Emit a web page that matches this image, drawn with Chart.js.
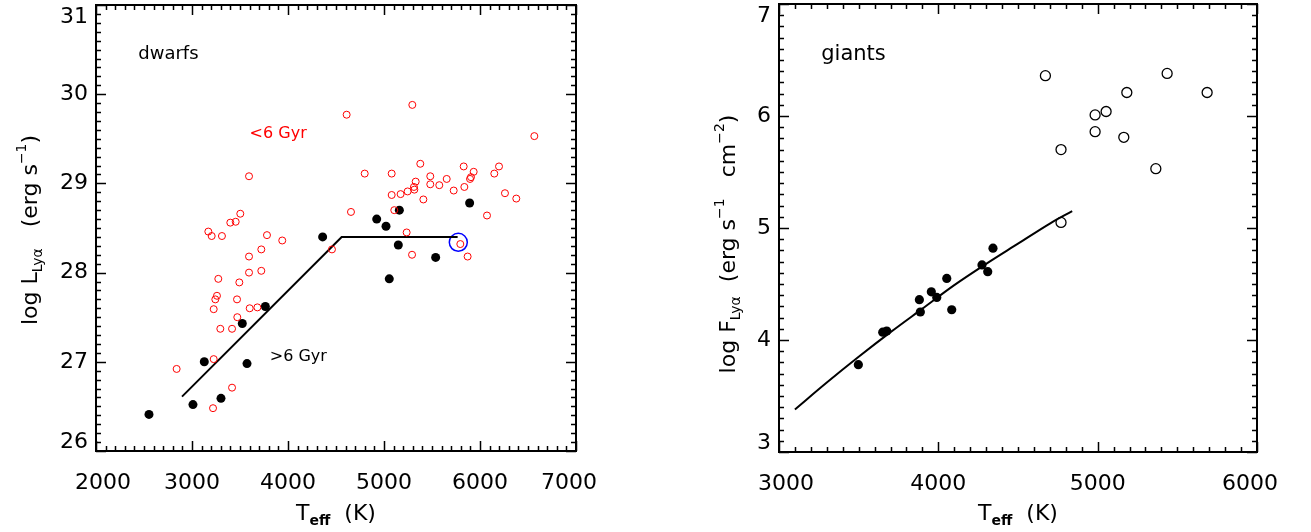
<!DOCTYPE html>
<html>
<head>
<meta charset="utf-8">
<script src="https://cdn.jsdelivr.net/npm/chart.js@4.4.1/dist/chart.umd.min.js"></script>
<style>
  html, body { margin: 0; padding: 0; background: #fff; }
  #wrap { position: relative; width: 1311px; height: 532px; }
  #c1 { position: absolute; left: 0; top: 0; }
  #c2 { position: absolute; left: 650px; top: 0; }
</style>
</head>
<body>
<div id="wrap">
  <canvas id="c1" width="650" height="532"></canvas>
  <canvas id="c2" width="661" height="532"></canvas>
</div>
<script>
// ---------- Left panel: dwarfs ----------
const youngTeff = [4611, 3594, 4799, 5080, 3503, 3455, 3399, 4656, 3170, 3205, 3312, 3781, 3940, 3722, 3594, 4458,
  5295, 6566, 5378, 5482, 5330, 5653, 5482, 5576, 5312, 5316, 5246, 5173, 5080, 5830, 5934, 5906, 5896, 6198, 6149,
  5726, 5837, 5410, 6260, 6378, 6073, 5107, 5236, 5292, 5871, 5795,
  3274, 3594, 3722, 3493, 3260, 3243, 3469, 3226, 3601, 3681, 3472, 3295, 3417, 3226, 2840, 3417, 3219];
const youngLogL = [29.77, 29.08, 29.11, 29.11, 28.66, 28.57, 28.56, 28.68, 28.46, 28.41, 28.41, 28.42, 28.36, 28.26, 28.18, 28.26,
  29.88, 29.53, 29.22, 29.08, 29.02, 29.05, 28.99, 28.98, 28.96, 28.93, 28.91, 28.88, 28.87, 29.19, 29.13, 29.07, 29.05, 29.19, 29.11,
  28.92, 28.96, 28.82, 28.89, 28.83, 28.64, 28.70, 28.45, 28.20, 28.18, 28.32,
  27.93, 28.00, 28.02, 27.89, 27.74, 27.70, 27.70, 27.59, 27.60, 27.61, 27.50, 27.37, 27.37, 27.03, 26.92, 26.71, 26.48];
const oldTeff = [4361, 4924, 5021, 5160, 5892, 5149, 5538, 5055, 3764, 3524, 3128, 3573, 3010, 3302, 2552];
const oldLogL = [28.40, 28.60, 28.52, 28.70, 28.78, 28.31, 28.17, 27.93, 27.62, 27.43, 27.00, 26.98, 26.52, 26.59, 26.41];
const sunTeff = [5774];
const sunLogL = [28.34];
const dwarfFitTeff = [2896, 4559, 5767];
const dwarfFitLogL = [26.61, 28.40, 28.40];
const dwarfXTicks = [2000, 3000, 4000, 5000, 6000, 7000];
const dwarfYTicks = [26, 27, 28, 29, 30, 31];

// ---------- Right panel: giants ----------
const giantFitTeff = [3498, 3651, 3676, 3881, 3887, 3956, 3990, 4053, 4084, 4274, 4310, 4343];
const giantFitLogF = [3.78, 4.07, 4.08, 4.36, 4.25, 4.43, 4.38, 4.55, 4.27, 4.67, 4.61, 4.82];
const giantOtherTeff = [4672, 5436, 5183, 5687, 4984, 5053, 4984, 5164, 4770, 5365, 4770];
const giantOtherLogF = [6.36, 6.38, 6.21, 6.21, 6.01, 6.04, 5.86, 5.81, 5.70, 5.53, 5.05];
const giantCurveTeff = [3100, 3300, 3500, 3700, 3900, 4100, 4300, 4500, 4700, 4840];
const giantCurveLogF = [3.38, 3.62, 3.85, 4.07, 4.28, 4.49, 4.68, 4.86, 5.04, 5.15];
const giantXTicks = [3000, 4000, 5000, 6000];
const giantYTicks = [3, 4, 5, 6, 7];

const FONT = '"DejaVu Sans", sans-serif';
const pts = (xs, ys) => xs.map((x, i) => ({x: x, y: ys[i]}));

function richText(ctx, parts, x, y, rotate) {
  ctx.save();
  ctx.translate(x, y);
  if (rotate) ctx.rotate(-Math.PI / 2);
  let total = 0;
  parts.forEach(p => { ctx.font = (p.bold ? 'bold ' : '') + p.size + 'px ' + FONT; total += ctx.measureText(p.t).width; });
  let cx = -total / 2;
  ctx.textBaseline = 'middle';
  ctx.textAlign = 'left';
  ctx.fillStyle = '#000';
  parts.forEach(p => {
    ctx.font = (p.bold ? 'bold ' : '') + p.size + 'px ' + FONT;
    ctx.fillText(p.t, cx, p.dy || 0);
    cx += ctx.measureText(p.t).width;
  });
  ctx.restore();
}

const framePlugin = {
  id: 'idlFrame',
  afterDraw(chart) {
    const cfg = chart.options.plugins.idlFrame;
    const ctx = chart.ctx;
    const a = chart.chartArea;
    const xs = chart.scales.x, ys = chart.scales.y;
    ctx.save();
    ctx.strokeStyle = '#000';
    ctx.lineWidth = 2;
    ctx.strokeRect(a.left, a.top, a.right - a.left, a.bottom - a.top);
    ctx.lineWidth = 1.5;
    ctx.beginPath();
    for (let k = 0; ; k++) {
      const v = xs.min + k * cfg.xMinor;
      if (v > xs.max + 1e-6) break;
      const major = Math.abs(v / cfg.xMajor - Math.round(v / cfg.xMajor)) < 1e-6;
      const L = major ? 10 : 5;
      const p = Math.round(xs.getPixelForValue(v)) + 0.5;
      ctx.moveTo(p, a.bottom); ctx.lineTo(p, a.bottom - L);
      ctx.moveTo(p, a.top); ctx.lineTo(p, a.top + L);
    }
    for (let k = 0; ; k++) {
      const v = ys.min + k * cfg.yMinor;
      if (v > ys.max + 1e-6) break;
      const major = Math.abs(v - Math.round(v)) < 1e-6;
      const L = major ? 10 : 5;
      const p = Math.round(ys.getPixelForValue(v)) + 0.5;
      ctx.moveTo(a.left, p); ctx.lineTo(a.left + L, p);
      ctx.moveTo(a.right, p); ctx.lineTo(a.right - L, p);
    }
    ctx.stroke();

    // tick labels (end labels nudged inward, as in the original)
    ctx.fillStyle = '#000';
    ctx.font = '22px ' + FONT;
    ctx.textBaseline = 'middle';
    ctx.textAlign = 'center';
    cfg.xTicks.forEach((v, i) => {
      let px = xs.getPixelForValue(v);
      if (i === 0) px += 7;
      if (i === cfg.xTicks.length - 1) px -= 7;
      ctx.fillText(String(v), px, a.bottom + 32);
    });
    ctx.textAlign = 'right';
    cfg.yTicks.forEach((v, i) => {
      let py = ys.getPixelForValue(v);
      if (i === 0) py -= 9;
      if (i === cfg.yTicks.length - 1) py += 12;
      ctx.fillText(String(v), a.left - 8, py);
    });
    ctx.restore();

    cfg.notes.forEach(n => {
      ctx.save();
      ctx.font = n.size + 'px ' + FONT;
      ctx.fillStyle = n.color;
      ctx.textAlign = 'left';
      ctx.textBaseline = 'middle';
      ctx.fillText(n.t, xs.getPixelForValue(n.x), ys.getPixelForValue(n.y));
      ctx.restore();
    });
    const cxm = (a.left + a.right) / 2;
    richText(ctx, cfg.xTitle, cxm, cfg.xTitleY, false);
    richText(ctx, cfg.yTitle, cfg.yTitleX, (a.top + a.bottom) / 2 + cfg.yTitleShift, true);
  }
};

function baseScales(xmin, xmax, ymin, ymax, yWidth, xHeight) {
  return {
    x: {
      type: 'linear', min: xmin, max: xmax,
      afterFit: s => { s.height = xHeight; s.paddingLeft = 0; s.paddingRight = 0; },
      grid: {display: false, drawTicks: false},
      border: {display: false},
      ticks: {display: false}
    },
    y: {
      type: 'linear', min: ymin, max: ymax,
      afterFit: s => { s.width = yWidth; s.paddingTop = 0; s.paddingBottom = 0; },
      grid: {display: false, drawTicks: false},
      border: {display: false},
      ticks: {display: false}
    }
  };
}

const common = {
  responsive: false,
  devicePixelRatio: 1,
  animation: false,
  events: []
};

new Chart(document.getElementById('c1'), {
  type: 'scatter',
  plugins: [framePlugin],
  data: {
    datasets: [
      {data: pts(youngTeff, youngLogL), pointStyle: 'circle', pointRadius: 3.5, pointBorderWidth: 1,
       pointBorderColor: '#ff0000', pointBackgroundColor: 'rgba(0,0,0,0)'},
      {data: pts(oldTeff, oldLogL), pointStyle: 'circle', pointRadius: 4.5, pointBorderWidth: 0,
       pointBackgroundColor: '#000', pointBorderColor: '#000'},
      {type: 'line', data: pts(dwarfFitTeff, dwarfFitLogL), showLine: true, borderColor: '#000', borderWidth: 2,
       pointRadius: 0, fill: false, tension: 0},
      {data: pts(sunTeff, sunLogL), pointStyle: 'circle', pointRadius: 9, pointBorderWidth: 1.5,
       pointBorderColor: '#0000ff', pointBackgroundColor: 'rgba(0,0,0,0)'}
    ]
  },
  options: Object.assign({}, common, {
    layout: {autoPadding: false, padding: {left: 0, right: 74, top: 5, bottom: 0}},
    scales: baseScales(2000, 7000, 26, 31, 96, 81),
    plugins: {
      legend: {display: false}, tooltip: {enabled: false},
      idlFrame: {
        xMinor: 100, xMajor: 1000, yMinor: 0.1,
        xTicks: dwarfXTicks, yTicks: dwarfYTicks,
        notes: [
          {t: 'dwarfs', x: 2440, y: 30.45, size: 18, color: '#000'},
          {t: '<6 Gyr', x: 3600, y: 29.55, size: 16, color: '#ff0000'},
          {t: '>6 Gyr', x: 3810, y: 27.05, size: 16, color: '#000'}
        ],
        xTitle: [{t: 'T', size: 22}, {t: 'eff', size: 14, bold: true, dy: 7}, {t: '  (K)', size: 22}],
        xTitleY: 514,
        yTitle: [{t: 'log L', size: 22}, {t: 'Lyα', size: 14, dy: 7}, {t: '   (erg s', size: 22},
                 {t: '−1', size: 14, dy: -9}, {t: ')', size: 22}],
        yTitleX: 31, yTitleShift: 2
      }
    }
  })
});

new Chart(document.getElementById('c2'), {
  type: 'scatter',
  plugins: [framePlugin],
  data: {
    datasets: [
      {data: pts(giantOtherTeff, giantOtherLogF), pointStyle: 'circle', pointRadius: 5, pointBorderWidth: 1.3,
       pointBorderColor: '#000', pointBackgroundColor: 'rgba(0,0,0,0)'},
      {data: pts(giantFitTeff, giantFitLogF), pointStyle: 'circle', pointRadius: 4.6, pointBorderWidth: 0,
       pointBackgroundColor: '#000', pointBorderColor: '#000'},
      {type: 'line', data: pts(giantCurveTeff, giantCurveLogF), showLine: true, borderColor: '#000', borderWidth: 2,
       pointRadius: 0, fill: false, tension: 0.4, cubicInterpolationMode: 'monotone'}
    ]
  },
  options: Object.assign({}, common, {
    layout: {autoPadding: false, padding: {left: 0, right: 54, top: 4, bottom: 0}},
    scales: baseScales(3000, 6000, 3, 7, 129, 80),
    plugins: {
      legend: {display: false}, tooltip: {enabled: false},
      idlFrame: {
        xMinor: 100, xMajor: 1000, yMinor: 0.1,
        xTicks: giantXTicks, yTicks: giantYTicks,
        notes: [
          {t: 'giants', x: 3265, y: 6.55, size: 21, color: '#000'}
        ],
        xTitle: [{t: 'T', size: 22}, {t: 'eff', size: 14, bold: true, dy: 7}, {t: '  (K)', size: 22}],
        xTitleY: 514,
        yTitle: [{t: 'log F', size: 22}, {t: 'Lyα', size: 14, dy: 7}, {t: '  (erg s', size: 22},
                 {t: '−1', size: 14, dy: -9}, {t: '   cm', size: 22}, {t: '−2', size: 14, dy: -9}, {t: ')', size: 22}],
        yTitleX: 79, yTitleShift: 16
      }
    }
  })
});
</script>
</body>
</html>
